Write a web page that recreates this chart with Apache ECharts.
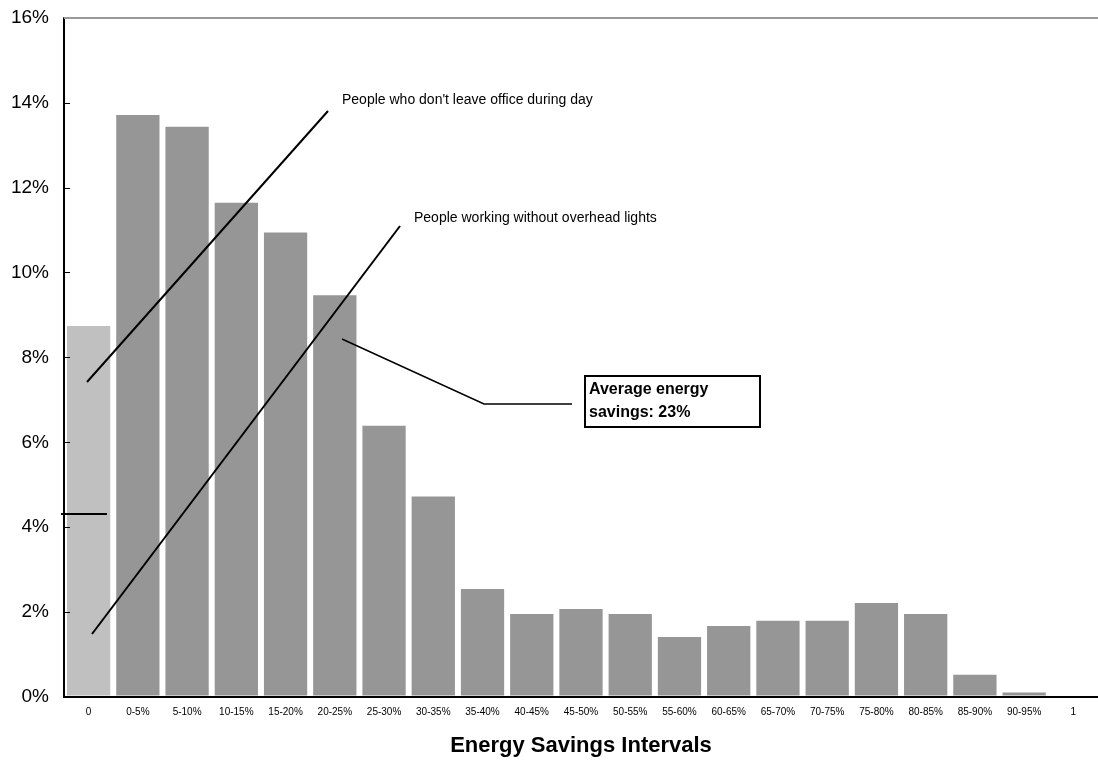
<!DOCTYPE html>
<html><head><meta charset="utf-8">
<script src="https://cdn.jsdelivr.net/npm/echarts@6/dist/echarts.min.js"></script>
<style>html,body{margin:0;padding:0;background:#fff}#c{width:1098px;height:762px}</style>
</head><body><div id="c"></div>
<script>
const categories = ['0','0-5%','5-10%','10-15%','15-20%','20-25%','25-30%','30-35%','35-40%','40-45%','45-50%','50-55%','55-60%','60-65%','65-70%','70-75%','75-80%','80-85%','85-90%','90-95%','1'];
const values = [8.78,13.75,13.47,11.68,10.98,9.5,6.43,4.76,2.58,1.99,2.11,1.99,1.45,1.71,1.83,1.83,2.25,1.99,0.56,0.14,0];
const yTicks = [0,2,4,6,8,10,12,14,16];

const chart = echarts.init(document.getElementById('c'));
const font = 'Arial, "Liberation Sans", sans-serif';
chart.setOption({
  animation:false,
  backgroundColor:'#fff',
  grid:{left:64,right:0,top:18,bottom:62},
  xAxis:{type:'category',data:categories,z:10,
    axisLine:{lineStyle:{color:'#000',width:2}},
    axisTick:{show:false},
    axisLabel:{color:'#000',fontSize:10,fontFamily:font,margin:10,interval:0},
    name:'Energy Savings Intervals',nameLocation:'middle',nameGap:38,
    nameTextStyle:{color:'#000',fontSize:22,fontWeight:'bold',fontFamily:font}
  },
  yAxis:{type:'value',min:0,max:16,interval:2,z:10,
    axisLine:{show:true,lineStyle:{color:'#000',width:2}},
    axisTick:{show:true,inside:true,length:6,lineStyle:{color:'#000'}},
    axisLabel:{color:'#000',fontSize:19,fontFamily:font,margin:15,formatter:v=>v+'%'},
    splitLine:{show:false}
  },
  series:[{type:'bar',barCategoryGap:'6%',
    data:values.map((v,i)=>({value:v,itemStyle:{color:i===0?'#c0c0c0':'#969696'}})),
    itemStyle:{borderColor:'#fff',borderWidth:1.5}
  }],
  graphic:[
    {type:'line',shape:{x1:64,y1:18,x2:1098,y2:18},style:{stroke:'#999',lineWidth:2},z:100},
    {type:'line',shape:{x1:87,y1:382,x2:328,y2:111},style:{stroke:'#000',lineWidth:2},z:100},
    {type:'line',shape:{x1:92,y1:634,x2:400,y2:226},style:{stroke:'#000',lineWidth:2},z:100},
    {type:'polyline',shape:{points:[[342,339],[484,404],[572,404]]},style:{stroke:'#000',fill:null,lineWidth:1.5},z:100},
    {type:'line',shape:{x1:61,y1:514,x2:107,y2:514},style:{stroke:'#000',lineWidth:2},z:100},
    {type:'text',x:342,y:100,style:{text:"People who don't leave office during day",fontSize:14,fontFamily:font,fill:'#000',verticalAlign:'middle'},z:100},
    {type:'text',x:414,y:218,style:{text:'People working without overhead lights',fontSize:14,fontFamily:font,fill:'#000',verticalAlign:'middle'},z:100},
    {type:'rect',shape:{x:585,y:376,width:175,height:51},style:{fill:'#fff',stroke:'#000',lineWidth:2},z:100},
    {type:'text',x:589,y:378,style:{text:'Average energy\nsavings: 23%',fontSize:16,fontWeight:'bold',fontFamily:font,fill:'#000',lineHeight:23},z:101}
  ]
});
</script></body></html>
